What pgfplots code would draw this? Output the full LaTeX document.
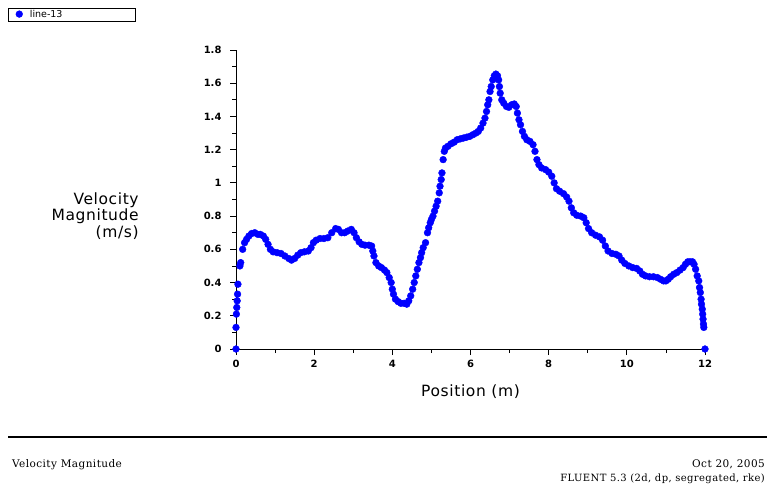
\documentclass[border=0pt]{standalone}
\usepackage{fontspec}
\setmainfont{DejaVu Sans}
\newfontfamily\lblfont[LetterSpace=4]{DejaVu Sans}
\newfontfamily\capfont[LetterSpace=4]{DejaVu Serif}
\usepackage{pgfplots}
\pgfplotsset{compat=1.18}

\definecolor{fluentblue}{RGB}{0,0,255}

\begin{document}
\begin{tikzpicture}[x=1pt,y=1pt]
  \useasboundingbox (0,0) rectangle (767,487);
  \begin{axis}[
      at={(236pt,138pt)}, anchor=south west,
      scale only axis, width=469pt, height=299pt,
      xmin=0, xmax=12, ymin=0, ymax=1.8,
      axis lines=left, axis line style={-, thick},
      clip=false,
      xtick={0,2,4,6,8,10,12},
      ytick={0,0.2,0.4,0.6,0.8,1,1.2,1.4,1.6,1.8},
      yticklabels={0,0.2,0.4,0.6,0.8,1,1.2,1.4,1.6,1.8},
      minor x tick num=1, minor y tick num=1,
      tick align=outside,
      major tick length=6pt, minor tick length=4pt,
      tick style={black, thick},
      tick label style={font=\bfseries\fontsize{10}{10}\selectfont},
      xticklabel style={yshift=-2pt},
      yticklabel style={xshift=-5pt},
      /pgf/number format/assume math mode=true,
      every axis x label/.style={at={(axis description cs:0.5,-0.144)}, anchor=center},
      every axis y label/.style={at={(axis description cs:-0.2,0.445)}, anchor=east, align=right},
      xlabel={\lblfont Position (m)},
      ylabel={\lblfont Velocity\\\lblfont Magnitude\\\lblfont (m/s)},
      label style={font=\fontsize{15.5}{16.5}\selectfont},
      legend style={at={(axis description cs:-0.486,1.140)}, anchor=north west,
        draw=black, line width=1.2pt, font=\fontsize{9.5}{9.5}\selectfont,
        inner sep=0pt, legend cell align=left},
      legend image code/.code={%
        \path (0pt,0pt) (18pt,0pt);
        \draw[#1, only marks, line width=0.4pt] plot coordinates {(10pt,1pt)};},
    ]
    \addplot[only marks, mark=*, mark size=3.4pt, color=fluentblue] coordinates {
      (0,0) (0.0,0.13) (0.01,0.21) (0.02,0.25) (0.03,0.29) (0.04,0.33) (0.05,0.39)
      (0.10,0.50) (0.12,0.52) (0.17,0.60) (0.22,0.64) (0.27,0.66) (0.33,0.68)
      (0.40,0.695) (0.48,0.70) (0.56,0.69) (0.62,0.69) (0.70,0.68) (0.76,0.66)
      (0.82,0.63) (0.88,0.60) (0.95,0.585) (1.05,0.58) (1.15,0.575) (1.25,0.56)
      (1.35,0.545) (1.42,0.535) (1.50,0.545) (1.58,0.565) (1.66,0.58) (1.75,0.585)
      (1.85,0.59) (1.92,0.61) (1.98,0.64) (2.05,0.655) (2.15,0.665) (2.25,0.665)
      (2.35,0.67) (2.45,0.70) (2.55,0.725) (2.62,0.72) (2.70,0.70) (2.78,0.70)
      (2.86,0.71) (2.95,0.72) (3.02,0.70) (3.08,0.67) (3.15,0.645) (3.22,0.63)
      (3.30,0.625) (3.40,0.625) (3.47,0.62) (3.50,0.59) (3.53,0.56) (3.58,0.52)
      (3.65,0.50) (3.72,0.49) (3.80,0.475) (3.86,0.46) (3.92,0.43) (3.97,0.40)
      (4.00,0.36) (4.03,0.33) (4.08,0.30) (4.15,0.285) (4.22,0.275) (4.30,0.275)
      (4.37,0.27) (4.42,0.29) (4.47,0.32) (4.52,0.36) (4.56,0.40) (4.60,0.44)
      (4.64,0.48) (4.68,0.52) (4.72,0.55) (4.75,0.58) (4.79,0.61) (4.85,0.64)
      (4.90,0.70) (4.93,0.73) (4.97,0.76) (5.00,0.78) (5.04,0.80) (5.08,0.83)
      (5.12,0.86) (5.16,0.89) (5.20,0.94) (5.22,0.98) (5.25,1.02) (5.27,1.06)
      (5.30,1.14) (5.33,1.19) (5.36,1.21) (5.42,1.22) (5.50,1.235) (5.58,1.245)
      (5.66,1.26) (5.74,1.265) (5.82,1.27) (5.90,1.275) (5.98,1.28) (6.06,1.29)
      (6.14,1.30) (6.20,1.31) (6.26,1.33) (6.32,1.36) (6.37,1.39) (6.41,1.43)
      (6.44,1.47) (6.47,1.50) (6.50,1.55) (6.53,1.58) (6.57,1.62) (6.61,1.645)
      (6.65,1.655) (6.69,1.645) (6.72,1.62) (6.74,1.58) (6.76,1.54) (6.80,1.50)
      (6.85,1.48) (6.92,1.46) (6.98,1.455) (7.05,1.47) (7.12,1.475) (7.17,1.46)
      (7.20,1.42) (7.24,1.38) (7.28,1.35) (7.33,1.31) (7.38,1.28) (7.44,1.26)
      (7.52,1.25) (7.60,1.23) (7.65,1.19) (7.70,1.14) (7.75,1.11) (7.82,1.09)
      (7.92,1.08) (8.00,1.065) (8.08,1.04) (8.14,1.00) (8.20,0.965) (8.28,0.95)
      (8.38,0.935) (8.46,0.915) (8.52,0.89) (8.58,0.85) (8.64,0.82) (8.72,0.805)
      (8.82,0.80) (8.90,0.79) (8.96,0.76) (9.02,0.725) (9.10,0.70) (9.20,0.685)
      (9.30,0.675) (9.38,0.655) (9.45,0.62) (9.52,0.59) (9.62,0.575) (9.72,0.57)
      (9.80,0.56) (9.87,0.535) (9.95,0.515) (10.05,0.50) (10.15,0.49) (10.25,0.485)
      (10.33,0.47) (10.40,0.45) (10.48,0.44) (10.58,0.435) (10.68,0.435) (10.78,0.43)
      (10.86,0.42) (10.94,0.41) (11.00,0.41) (11.06,0.42) (11.12,0.435) (11.20,0.45)
      (11.28,0.46) (11.36,0.475) (11.44,0.49) (11.50,0.51) (11.56,0.525) (11.62,0.525)
      (11.68,0.525) (11.72,0.51) (11.76,0.48) (11.80,0.44) (11.84,0.41) (11.86,0.37)
      (11.88,0.34) (11.90,0.30) (11.91,0.27) (11.93,0.24) (11.94,0.21) (11.95,0.18)
      (11.96,0.15) (11.97,0.13) (12.00,0)
    };
    \addlegendentry{\makebox[104pt][l]{line-13}}
  \end{axis}
  % footer of the FLUENT plot window
  \draw[line width=1.5pt] (8,50) -- (767,50);
  \node[anchor=base west, font=\capfont\fontsize{10.5}{10.5}\selectfont, inner sep=0pt] at (12,20) {Velocity Magnitude};
  \node[anchor=base east, font=\capfont\fontsize{10.5}{10.5}\selectfont, inner sep=0pt] at (765,20) {Oct 20, 2005};
  \node[anchor=base east, font=\capfont\fontsize{10}{10}\selectfont, inner sep=0pt] at (765,6) {FLUENT 5.3 (2d, dp, segregated, rke)};
\end{tikzpicture}
\end{document}
